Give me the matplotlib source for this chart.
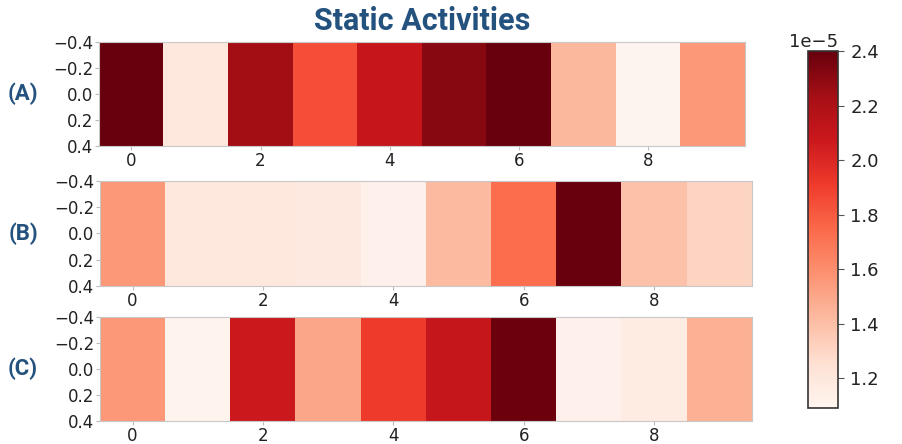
import matplotlib
matplotlib.use("Agg")
import matplotlib.pyplot as plt
import numpy as np
from matplotlib.colors import Normalize

# activity per unit, in units of 1e-5
actA = [2.40, 1.20, 2.24, 1.84, 2.09, 2.31, 2.40, 1.43, 1.10, 1.56]
actB = [1.56, 1.20, 1.20, 1.18, 1.12, 1.42, 1.73, 2.40, 1.39, 1.31]
actC = [1.56, 1.11, 2.07, 1.50, 1.91, 2.10, 2.38, 1.12, 1.17, 1.46]
rowLabels = ["(A)", "(B)", "(C)"]
title = "Static Activities"
cbTicks = [1.2, 1.4, 1.6, 1.8, 2.0, 2.2, 2.4]
vmin, vmax = 1.09, 2.40

blue = "#24527f"
labelFont = ["Roboto", "DejaVu Sans"]

W, H = 902, 444
fig = plt.figure(figsize=(W / 100, H / 100), dpi=100)

norm = Normalize(vmin=vmin * 1e-5, vmax=vmax * 1e-5)

# panel boxes in pixels: left, top, right, bottom
boxes = [(99, 42, 745, 146), (100, 181, 752, 286), (100, 317, 752, 421)]
rows = [actA, actB, actC]

for data, lab, (l, t, r, b) in zip(rows, rowLabels, boxes):
    ax = fig.add_axes([l / W, 1 - b / H, (r - l) / W, (b - t) / H])
    im = ax.imshow(np.array(data)[None, :] * 1e-5, cmap="Reds", norm=norm,
                   aspect="auto")
    ax.set_yticks([-0.4, -0.2, 0.0, 0.2, 0.4])
    ax.set_yticklabels(["\u22120.4", "\u22120.2", "0.0", "0.2", "0.4"])
    ax.set_xticks([0, 2, 4, 6, 8])
    ax.set_ylim(0.4, -0.4)
    ax.set_xlim(-0.5, 9.5)
    ax.tick_params(labelsize=12, length=3, color="#bbbbbb", pad=1,
                   labelcolor="#222222")
    for sp in ax.spines.values():
        sp.set_color("#c8c8c8")
    fig.text(23 / W, 1 - ((t + b) / 2) / H, lab, color=blue, fontsize=16,
             fontweight="bold", family=labelFont, ha="center", va="center")

fig.text(422 / W, 1 - 21 / H, title, color=blue, fontsize=22,
         fontweight="bold", family=labelFont, ha="center", va="center")

# colorbar
cax = fig.add_axes([808 / W, 1 - 408 / H, 30 / W, 357 / H])
cb = fig.colorbar(im, cax=cax)
cb.set_ticks([v * 1e-5 for v in cbTicks])
cb.ax.tick_params(labelsize=13, length=4, color="#555555", pad=5,
                  labelcolor="#222222")
cb.ax.yaxis.get_offset_text().set_fontsize(13)
cb.outline.set_edgecolor("#333333")
cb.outline.set_linewidth(1.2)

fig.savefig("out.png", dpi=100)
